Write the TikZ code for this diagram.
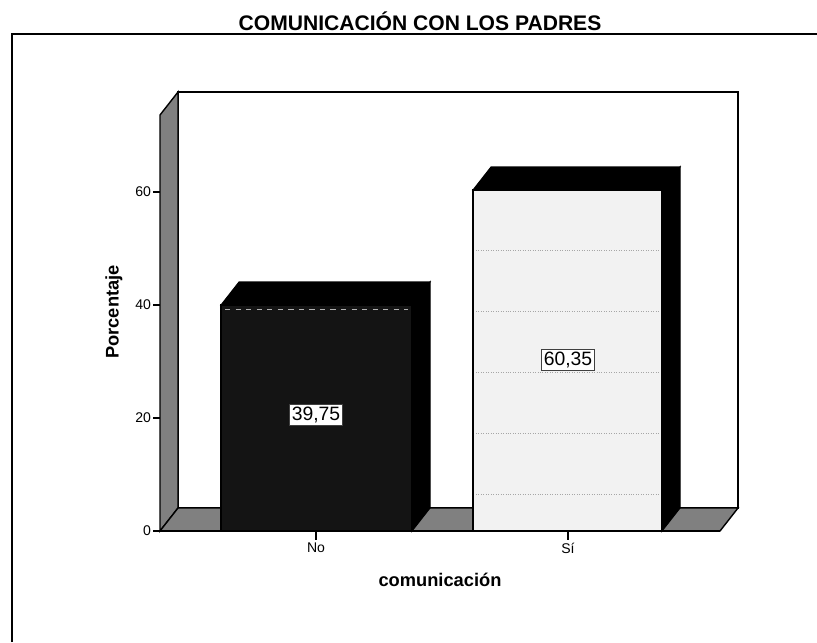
\documentclass[tikz,border=0pt]{standalone}
\usepackage{fontspec}
\setmainfont{Liberation Sans}
\usetikzlibrary{calc}
\tikzstyle{sidewall}=[fill=black!50,draw=black,line width=0.8pt]
\tikzstyle{barface}=[draw=black,line width=0.6pt]
\tikzstyle{valuebox}=[draw=black!75,fill=white,inner sep=1.5pt,font=\fontsize{11}{13}\selectfont]
\tikzstyle{ticklabel}=[anchor=east,inner sep=1pt,font=\fontsize{8}{9}\selectfont]
\tikzstyle{catlabel}=[anchor=north,inner sep=1pt,font=\fontsize{8}{9}\selectfont]
\tikzstyle{axistitle}=[font=\bfseries\fontsize{10.4}{12}\selectfont]
\tikzstyle{titlelabel}=[font=\bfseries\fontsize{12}{14}\selectfont]
\tikzstyle{scanline}=[black!35,densely dotted,line width=0.4pt]

\begin{document}
\begin{tikzpicture}[x=0.02cm,y=-0.02cm]
    \useasboundingbox (0,0) rectangle (817,642);
    % Frame and title
    \draw[line width=1.2pt] (12,642) -- (12,34) -- (817,34);
    \node[titlelabel] (title) at (420,21) {COMUNICACIÓN CON LOS PADRES};

    % Back wall, side wall and floor
    \draw[fill=white,line width=0.8pt] (178,92) rectangle (738,508);
    \draw[sidewall] (160,531) -- (160,115) -- (178,92) -- (178,508) -- cycle;
    \draw[sidewall] (160,531) -- (178,508) -- (738,508) -- (720,531) -- cycle;

    % Bar for No
    \draw[barface,fill=black!92] (221,531) rectangle (412,305);
    \draw[barface,fill=black] (221,305) -- (239,282) -- (430,282) -- (412,305) -- cycle;
    \draw[barface,fill=black] (412,305) -- (430,282) -- (430,508) -- (412,531) -- cycle;
    \draw[white!70!black,dashed,line width=0.4pt] (225,309) -- (408,309);

    % Bar for Si
    \draw[barface,fill=black!5] (473,531) rectangle (662,190);
    \draw[barface,fill=black] (473,190) -- (491,167) -- (680,167) -- (662,190) -- cycle;
    \draw[barface,fill=black] (662,190) -- (680,167) -- (680,508) -- (662,531) -- cycle;
    \foreach \y in {250,311,372,433,494}
        \draw[scanline] (476,\y) -- (659,\y);

    % Axis line and ticks
    \draw[line width=1.2pt] (153,531) -- (720,531);
    \foreach \y/\val in {531/0,418/20,305/40,192/60} {
        \draw[line width=0.6pt] (153,\y) -- (160,\y);
        \node[ticklabel] (tick\val) at (153,\y) {\val};
    }
    \foreach \x/\name/\lab in {316/no/No,568/si/Sí} {
        \draw[line width=0.6pt] (\x,531) -- (\x,540);
        \node[catlabel] (cat\name) at (\x,541) {\lab};
    }

    % Values on the bars
    \node[valuebox] (valno) at (316,415) {39,75};
    \node[valuebox] (valsi) at (568,360) {60,35};

    % Axis titles
    \node[axistitle,anchor=base] (xtitle) at (440,586) {comunicación};
    \node[axistitle,rotate=90] (ytitle) at (114,312) {Porcentaje};
\end{tikzpicture}
\end{document}
